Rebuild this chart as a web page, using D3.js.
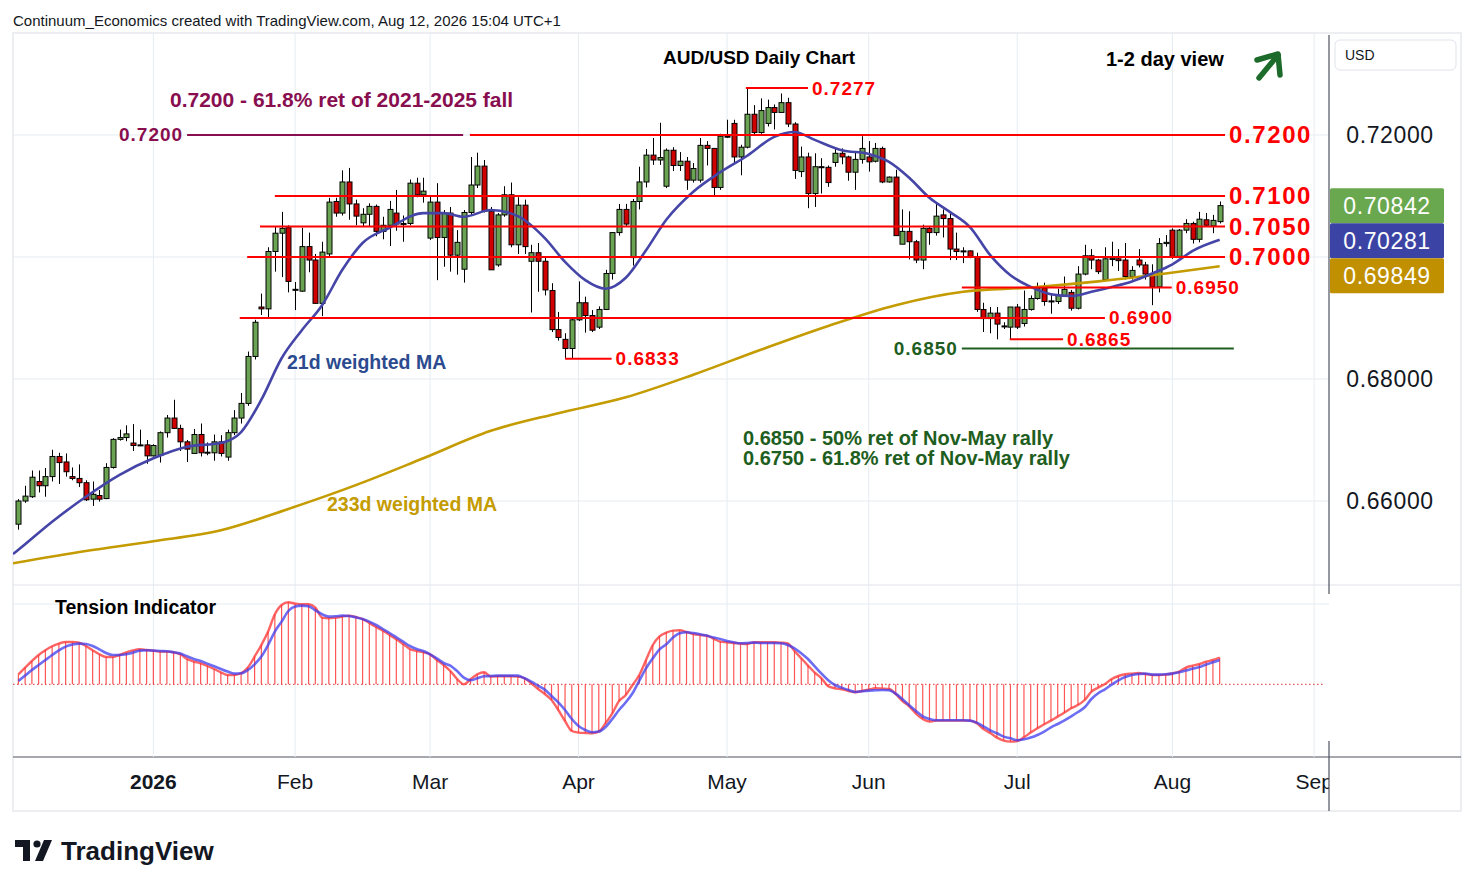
<!DOCTYPE html>
<html>
<head>
<meta charset="utf-8">
<title>AUD/USD Daily Chart</title>
<script src="https://cdn.jsdelivr.net/npm/d3@7"></script>
<style>
  body { margin: 0; background: #fff; }
  svg { display: block; font-family: "Liberation Sans", Arial, sans-serif; }
</style>
</head>
<body>
<script>
// ---- data ----

// daily candles, Dec 3 2025 .. Aug 12 2026
const opens = [
  .6562,.6600,.6607,.6632,.6625,.6640,.6673,.6664,.6640,.6637,.6630,.6603,.6609,.6604,.6655,.6701,.6704,.6695,.6692,.6692,
  .6674,.6675,.6712,.6736,.6719,.6697,.6678,.6709,.6679,.6679,.6697,.6672,.6712,.6736,.6760,.6837,.6918,.6915,.7009,.7039,
  .7048,.6946,.6944,.7017,.6995,.6924,.7005,.7091,.7072,.7123,.7087,.7056,.7070,.7083,.7042,.7052,.7072,.7054,.7055,.7121,
  .7102,.7031,.7090,.7032,.7072,.7003,.6980,.7073,.7118,.7149,.7075,.6987,.7069,.7102,.7020,.7085,.6993,.7007,.6993,.6945,
  .6881,.6865,.6850,.6897,.6925,.6904,.6885,.6914,.6973,.7040,.7078,.6999,.7091,.7123,.7167,.7159,.7116,.7175,.7150,.7157,
  .7126,.7126,.7183,.7178,.7114,.7197,.7219,.7164,.7180,.7234,.7204,.7219,.7245,.7237,.7253,.7218,.7140,.7164,.7104,.7148,
  .7147,.7155,.7170,.7164,.7139,.7160,.7164,.7157,.7178,.7123,.7131,.7021,.7042,.7025,.6995,.7047,.7040,.7069,.7063,.7013,
  .7010,.7010,.6999,.6914,.6899,.6908,.6887,.6885,.6918,.6891,.6914,.6932,.6949,.6928,.6927,.6937,.6942,.6916,.6972,.7002,
  .6995,.6963,.6996,.6997,.6995,.6968,.6995,.6987,.6972,.6951,.7022,.7044,.7001,.7044,.7055,.7029,.7061,.7051,.7058
];
const highs = [
  .6603,.6625,.6650,.6650,.6654,.6684,.6679,.6678,.6655,.6660,.6634,.6632,.6618,.6662,.6703,.6717,.6724,.6726,.6717,.6700,
  .6693,.6714,.6741,.6766,.6725,.6700,.6718,.6727,.6696,.6709,.6708,.6717,.6749,.6777,.6845,.6897,.6940,.7016,.7050,.7074,
  .7052,.6959,.7048,.7040,.7005,.7025,.7097,.7097,.7142,.7146,.7094,.7080,.7088,.7086,.7066,.7092,.7110,.7068,.7127,.7130,
  .7130,.7101,.7121,.7077,.7082,.7044,.7077,.7164,.7171,.7159,.7082,.7072,.7116,.7122,.7098,.7094,.7020,.7023,.7000,.6957,
  .6910,.6875,.6900,.6960,.6935,.6913,.6919,.6979,.7041,.7087,.7087,.7095,.7148,.7177,.7195,.7220,.7178,.7180,.7172,.7164,
  .7154,.7195,.7190,.7178,.7202,.7225,.7225,.7184,.7277,.7249,.7260,.7258,.7250,.7268,.7261,.7221,.7181,.7171,.7170,.7162,
  .7150,.7178,.7178,.7166,.7173,.7198,.7190,.7187,.7181,.7132,.7143,.7078,.7075,.7028,.7053,.7050,.7087,.7078,.7075,.7040,
  .7016,.7011,.7007,.6925,.6918,.6918,.6893,.6918,.6923,.6945,.6937,.6958,.6958,.6941,.6948,.6968,.6946,.6985,.7020,.7013,
  .6997,.7016,.7025,.7013,.7023,.6985,.7013,.6992,.6988,.7031,.7036,.7047,.7046,.7062,.7058,.7074,.7072,.7069,.7091
];
const lows = [
  .6553,.6597,.6605,.6614,.6607,.6632,.6628,.6640,.6634,.6623,.6600,.6592,.6599,.6603,.6653,.6699,.6698,.6682,.6690,.6661,
  .6673,.6663,.6704,.6718,.6682,.6664,.6678,.6673,.6675,.6666,.6673,.6666,.6708,.6727,.6756,.6832,.6905,.6900,.6976,.6967,
  .6942,.6913,.6943,.6975,.6924,.6903,.7000,.7066,.7068,.7061,.7052,.7050,.7050,.7034,.7029,.7018,.7043,.7025,.7052,.7098,
  .7089,.7028,.6962,.6984,.6976,.6971,.6958,.7068,.7113,.7073,.6979,.6984,.7066,.7016,.7005,.7005,.6909,.6943,.6937,.6877,
  .6863,.6833,.6833,.6895,.6876,.6877,.6882,.6913,.6963,.7035,.7050,.6986,.7078,.7114,.7151,.7151,.7113,.7141,.7141,.7110,
  .7122,.7122,.7150,.7100,.7110,.7195,.7153,.7134,.7178,.7201,.7202,.7214,.7209,.7237,.7213,.7128,.7131,.7080,.7082,.7104,
  .7115,.7148,.7152,.7125,.7110,.7153,.7140,.7155,.7121,.7122,.7035,.7021,.6996,.6990,.6980,.7020,.7035,.7032,.6995,.6995,
  .6990,.6998,.6910,.6877,.6875,.6865,.6882,.6865,.6882,.6886,.6912,.6930,.6920,.6907,.6923,.6935,.6912,.6914,.6970,.6980,
  .6972,.6961,.6985,.6977,.6963,.6963,.6983,.6963,.6921,.6942,.7017,.6997,.6998,.7039,.7022,.7024,.7050,.7039,.7055
];
const closes = [
  .6600,.6608,.6639,.6625,.6640,.6673,.6663,.6648,.6637,.6630,.6602,.6611,.6603,.6655,.6701,.6704,.6710,.6691,.6692,.6674,
  .6691,.6712,.6736,.6719,.6697,.6685,.6709,.6679,.6680,.6697,.6678,.6712,.6736,.6760,.6837,.6893,.6915,.7009,.7039,.7047,
  .6960,.6947,.7017,.6995,.6924,.7008,.7090,.7072,.7123,.7087,.7067,.7070,.7083,.7042,.7052,.7078,.7054,.7055,.7121,.7102,
  .7108,.7090,.7032,.7072,.7003,.7024,.7073,.7118,.7149,.7075,.6979,.7069,.7102,.7020,.7085,.7017,.7007,.6993,.6946,.6881,
  .6868,.6850,.6897,.6925,.6904,.6880,.6914,.6973,.7040,.7078,.7054,.7091,.7123,.7167,.7159,.7163,.7175,.7150,.7157,.7126,
  .7145,.7183,.7178,.7114,.7198,.7198,.7164,.7180,.7234,.7204,.7240,.7245,.7237,.7253,.7218,.7142,.7164,.7104,.7148,.7147,
  .7122,.7170,.7164,.7139,.7160,.7178,.7156,.7178,.7123,.7131,.7035,.7042,.7025,.6995,.7047,.7040,.7067,.7063,.7013,.7009,
  .7009,.7001,.6914,.6899,.6908,.6890,.6886,.6918,.6885,.6914,.6932,.6949,.6927,.6928,.6937,.6947,.6916,.6972,.7002,.6995,
  .6976,.6997,.6998,.6994,.6968,.6978,.6987,.6972,.6951,.7022,.7024,.7001,.7044,.7055,.7029,.7062,.7052,.7060,.70842
];

// weighted moving averages: [bar index, value]
const wma21 = [
  [-0.8,.6513],[0,.6520],[5,.6566],[10,.6607],[15,.6643],[20,.6670],[25,.6689],[30,.6695],[33,.6713],[36,.6766],
  [39,.6834],[42,.6880],[45,.6921],[48,.6979],[51,.7023],[55,.7048],[60,.7072],[63,.7072],[66,.7066],[70,.7077],
  [74,.7067],[78,.7031],[81,.6992],[84,.6962],[87,.6948],[90,.6966],[93,.7011],[96,.7061],[100,.7107],[104,.7139],
  [108,.7166],[112,.7197],[115,.7205],[118,.7192],[122,.7175],[126,.7169],[129,.7156],[132,.7130],[135,.7097],[138,.7074],
  [141,.7049],[144,.7003],[147,.6970],[150,.6951],[153,.6939],[156,.6936],[159,.6943],[162,.6951],[165,.6960],[168,.6973],
  [171,.6988],[174,.7010],[178,.70281]
];
const wma233 = [
  [-0.8,.6498],[10,.6518],[20,.6534],[30,.6552],[40,.6587],[50,.6626],[60,.6670],[70,.6715],[80,.6744],[90,.6770],
  [100,.6807],[110,.6848],[120,.6887],[130,.6921],[140,.6943],[150,.6950],[160,.6960],[170,.6973],[178,.69849]
];

// tension indicator (histogram) and its signal line, one value per bar
const tension = [
  10,16.7,23.3,29.3,34,38,40.7,42.3,42.3,41.7, 38.3,34,30,27.3,27.3,29.3,32,34,35,34.3,
  33.7,32.7,32.7,32,30,25.3,22.7,21,18.3,15.3, 12,9.3,9.3,11,16.7,27.7,39.3,52.7,70,79.3,
  82,80.7,80,80,76.7,66.7,66,66.7,67.7,68.7, 67.3,65.3,61.3,57.3,53.7,49.3,45,40.3,35.3,33.3,
  32,30,24.3,19.3,13.3,5.3,0,5,10,12, 7.7,8,8,8,7.7,6,1,-4.7,-9.7,-15.7,
  -25.7,-36.7,-46.7,-48.3,-48.7,-49,-47.3,-39,-29,-16.7, -10.7,-0.7,9.3,24.3,39.3,48,51.7,53.7,54,52.3,
  50.3,49.3,48.7,45.7,42.7,42,41.3,40.7,40.3,42, 42,42,42,41.7,41,33.3,26,18.7,11.7,6,
  -2,-4,-5,-6.7,-8,-6.7,-5.3,-4,-4.3,-4.7, -9.7,-16.7,-22,-29.3,-34.7,-37.3,-36.3,-36.3,-36.3,-36.3,
  -36.3,-36.3,-39,-44.7,-48.7,-53.3,-56.3,-57.3,-56.7,-53, -48.3,-44,-40,-36.3,-32.3,-28.3,-24,-20.7,-15.7,-7.3,
  -3.3,0.3,5.3,8.3,10,10.7,11.3,10.3,9.3,9.3, 9.7,11,12.7,16.7,18.7,20.3,22.7,24.3,26.7
];
const tensionSignal = [
  3.3,8.7,14.3,19.3,24.3,29.3,34,37.7,39.7,40.7, 40.3,38.3,35,31.3,29.3,29.3,30,31.7,33.7,34,
  33.7,33.3,33,32,30.7,28,25.3,23.3,20.7,18, 15.3,12.7,10.7,11,14.3,20,27.7,39.3,52.7,62.7,
  73.3,77.7,78.7,78,74,70,67.7,68,68.7,68.3, 67,65.3,62.7,59.3,55.3,51.3,47,42.7,38.3,35.3,
  33.3,30,26,21.3,18.7,13.3,6.7,4,6,8, 8.3,8.7,8.7,8.7,8.7,6,2.7,-1.3,-5.3,-11.7,
  -18,-25.7,-34.7,-41.7,-45.7,-48,-47.3,-42.7,-34.7,-25.7, -18,-9,3.7,16,26,35,40,46.7,51,52,
  51.3,50,48.7,46.7,45.3,43.3,42,41,41.3,41.7, 41.3,41.3,41.3,41,39.3,36,31,25.3,18,10.7,
  4,-0.7,-3.3,-5.7,-7.7,-7,-6.3,-6,-5.7,-6, -9.3,-15,-21,-26.7,-32,-34.7,-36,-36,-36,-36,
  -36,-36.3,-38.3,-42,-46,-49,-52.3,-54,-56,-55, -53.3,-50.7,-47.3,-43,-39.7,-36,-32,-27.7,-23,-14.7,
  -9,-5,-0.3,4,7.3,9.3,10.3,10.7,9.7,9.7, 10,10.7,12,13.7,15.7,17.3,19.7,22,24.3
];

// price axis
const priceTicks = [0.66, 0.68, 0.70, 0.72];

// analyst levels: value, bar range, label side
const redLevels = [
  { v: 0.7200, from: 66.9, to: 178.8, big: true },
  { v: 0.7100, from: 38.0, to: 178.8, big: true },
  { v: 0.7050, from: 35.8, to: 178.8, big: true },
  { v: 0.7000, from: 33.9, to: 178.8, big: true },
  { v: 0.6950, from: 139.8, to: 170.9 },
  { v: 0.6900, from: 32.8, to: 161.0 },
  { v: 0.6865, from: 146.9, to: 154.8 },
  { v: 0.6833, from: 81.0, to: 87.9 },
  { v: 0.7277, from: 107.8, to: 117.0 }
];
const retraceLevel = { v: 0.7200, from: 25.0, to: 65.9 };
const supportLevel = { v: 0.6850, from: 139.8, to: 180.1 };

// ---- chart ----
(function() {
  const W = 1474, H = 887;
  const left = 13, right = 1329, top = 33, priceBottom = 585;
  const tensTop = 588, tensBottom = 757, axisBottom = 811, outerRight = 1461;

  const red = '#ff0000', maroon = '#880e4f', dkGreen = '#1e5e20';
  const upFill = '#6aa351', downFill = '#d10000';

  const svg = d3.select('body').append('svg').attr('width', W).attr('height', H);

  const x = d3.scaleLinear().domain([-0.8, 194.2]).range([left, right]);
  const y = d3.scaleLinear().domain([0.64623, 0.73672]).range([priceBottom, top]);
  const yt = d3.scaleLinear().domain([-60, 85]).range([744.3, 599.3]);

  // trading days (weekdays, no Christmas / New Year)
  const fmt = d3.timeFormat('%Y-%m-%d');
  const holidays = ['2025-12-25', '2026-01-01'];
  const days = d3.timeDay.range(new Date(2025, 11, 3), new Date(2026, 9, 1))
    .filter(d => d.getDay() % 6 !== 0 && !holidays.includes(fmt(d)));
  const monthTicks = [];
  days.forEach((d, k) => {
    if (k > 0 && d.getMonth() !== days[k - 1].getMonth()) {
      monthTicks.push({ i: k, label: d.getMonth() === 0 ? d3.timeFormat('%Y')(d) : d3.timeFormat('%b')(d), year: d.getMonth() === 0 });
    }
  });

  const defs = svg.append('defs');
  defs.append('clipPath').attr('id', 'clipPrice').append('rect')
    .attr('x', left).attr('y', top).attr('width', right - left).attr('height', priceBottom - top);
  defs.append('clipPath').attr('id', 'clipTens').append('rect')
    .attr('x', left).attr('y', tensTop).attr('width', right - left).attr('height', tensBottom - tensTop);
  defs.append('clipPath').attr('id', 'clipAxis').append('rect')
    .attr('x', left).attr('y', tensBottom).attr('width', right - left).attr('height', axisBottom - tensBottom);

  // header
  svg.append('text').attr('x', 13).attr('y', 20).attr('dominant-baseline', 'central')
    .attr('font-size', 15).attr('fill', '#131722')
    .text('Continuum_Economics created with TradingView.com, Aug 12, 2026 15:04 UTC+1');

  // frame
  svg.append('rect').attr('x', left).attr('y', top).attr('width', outerRight - left).attr('height', axisBottom - top)
    .attr('fill', 'none').attr('stroke', '#eceef2').attr('stroke-width', 2);
  svg.append('line').attr('x1', left).attr('x2', outerRight).attr('y1', tensBottom).attr('y2', tensBottom)
    .attr('stroke', '#50535e').attr('stroke-width', 1.2);
  svg.append('line').attr('x1', left).attr('x2', outerRight).attr('y1', priceBottom).attr('y2', priceBottom)
    .attr('stroke', '#e0e3eb').attr('stroke-width', 1.2);

  // grid
  const grid = svg.append('g').attr('stroke', '#e6ecf2').attr('stroke-width', 1);
  grid.selectAll('.hg').data(priceTicks).enter().append('line')
    .attr('x1', left).attr('x2', right).attr('y1', d => y(d)).attr('y2', d => y(d));
  grid.append('line').attr('x1', left).attr('x2', right).attr('y1', 604).attr('y2', 604);
  grid.selectAll('.vg').data(monthTicks.filter(t => x(t.i) < right)).enter().append('line')
    .attr('x1', d => x(d.i)).attr('x2', d => x(d.i)).attr('y1', top).attr('y2', tensBottom);

  // candles
  const candleG = svg.append('g').attr('clip-path', 'url(#clipPrice)');
  const bars = d3.range(closes.length);
  candleG.selectAll('.wick').data(bars).enter().append('line')
    .attr('x1', i => Math.round(x(i)) + 0.5).attr('x2', i => Math.round(x(i)) + 0.5)
    .attr('y1', i => y(highs[i])).attr('y2', i => y(lows[i]))
    .attr('stroke', '#000').attr('stroke-width', 1);
  candleG.selectAll('.body').data(bars).enter().append('rect')
    .attr('x', i => Math.round(x(i)) - 2)
    .attr('y', i => y(Math.max(opens[i], closes[i])))
    .attr('width', 5)
    .attr('height', i => Math.max(1, Math.abs(y(opens[i]) - y(closes[i]))))
    .attr('fill', i => closes[i] >= opens[i] ? upFill : downFill)
    .attr('stroke', '#000').attr('stroke-width', 1);

  // moving averages
  const maLine = d3.line().x(d => x(d[0])).y(d => y(d[1])).curve(d3.curveMonotoneX);
  const maG = svg.append('g').attr('clip-path', 'url(#clipPrice)').attr('fill', 'none').attr('stroke-width', 2.6);
  maG.append('path').datum(wma233).attr('d', maLine).attr('stroke', '#c49b00');
  maG.append('path').datum(wma21).attr('d', maLine).attr('stroke', '#4545a8');

  // level lines
  const lv = svg.append('g').attr('stroke-width', 2);
  redLevels.forEach(l => {
    lv.append('line').attr('x1', x(l.from)).attr('x2', x(l.to)).attr('y1', y(l.v)).attr('y2', y(l.v)).attr('stroke', red);
    svg.append('text').attr('x', x(l.to) + 4).attr('y', y(l.v)).attr('dominant-baseline', 'central')
      .attr('font-weight', 'bold').attr('font-size', l.big ? 24 : 19).attr('letter-spacing', l.big ? 1.6 : 1)
      .attr('fill', red).text(l.v.toFixed(4));
  });
  lv.append('line').attr('x1', x(retraceLevel.from)).attr('x2', x(retraceLevel.to))
    .attr('y1', y(retraceLevel.v)).attr('y2', y(retraceLevel.v)).attr('stroke', maroon);
  svg.append('text').attr('x', x(retraceLevel.from) - 4).attr('y', y(retraceLevel.v)).attr('dominant-baseline', 'central')
    .attr('text-anchor', 'end').attr('font-weight', 'bold').attr('font-size', 19).attr('letter-spacing', 1)
    .attr('fill', maroon).text(retraceLevel.v.toFixed(4));
  lv.append('line').attr('x1', x(supportLevel.from)).attr('x2', x(supportLevel.to))
    .attr('y1', y(supportLevel.v)).attr('y2', y(supportLevel.v)).attr('stroke', dkGreen);
  svg.append('text').attr('x', x(supportLevel.from) - 4).attr('y', y(supportLevel.v)).attr('dominant-baseline', 'central')
    .attr('text-anchor', 'end').attr('font-weight', 'bold').attr('font-size', 19).attr('letter-spacing', 1)
    .attr('fill', dkGreen).text(supportLevel.v.toFixed(4));

  // annotations
  const note = (tx, ty, txt, color, size) => svg.append('text')
    .attr('x', tx).attr('y', ty).attr('dominant-baseline', 'central')
    .attr('font-weight', 'bold').attr('font-size', size || 19).attr('fill', color).text(txt);
  note(663, 57, 'AUD/USD Daily Chart', '#000');
  note(1106, 59, '1-2 day view', '#000', 20);
  note(170, 99, '0.7200 - 61.8% ret of 2021-2025 fall', maroon, 21);
  note(287, 362, '21d weighted MA', '#2b4a8f', 19.5);
  note(327, 504, '233d weighted MA', '#c49b00', 19.5);
  note(743, 438, '0.6850 - 50% ret of Nov-May rally', dkGreen, 20);
  note(743, 458, '0.6750 - 61.8% ret of Nov-May rally', dkGreen, 20);
  note(55, 607, 'Tension Indicator', '#000', 19.5);

  // view arrow
  const arrow = svg.append('g').attr('stroke', '#1d6b2a').attr('stroke-width', 5.5)
    .attr('stroke-linecap', 'round').attr('stroke-linejoin', 'round').attr('fill', 'none');
  arrow.append('line').attr('x1', 1259).attr('y1', 78).attr('x2', 1278).attr('y2', 55);
  arrow.append('polyline').attr('points', '1257,60 1278,54 1280,75');

  // tension panel
  const tg = svg.append('g').attr('clip-path', 'url(#clipTens)');
  tg.append('line').attr('x1', left).attr('x2', 1325).attr('y1', yt(0)).attr('y2', yt(0))
    .attr('stroke', '#e03030').attr('stroke-width', 1).attr('stroke-dasharray', '1.5,2.5');
  tg.selectAll('.th').data(bars).enter().append('line')
    .attr('x1', i => x(i)).attr('x2', i => x(i)).attr('y1', yt(0)).attr('y2', i => yt(tension[i]))
    .attr('stroke', '#ff2a2a').attr('stroke-opacity', 0.8).attr('stroke-width', 1.2);
  const tl = d3.line().x((d, i) => x(i)).y(d => yt(d)).curve(d3.curveMonotoneX);
  tg.append('path').datum(tension).attr('d', tl).attr('fill', 'none')
    .attr('stroke', '#ff3030').attr('stroke-opacity', 0.75).attr('stroke-width', 2.4);
  tg.append('path').datum(tensionSignal).attr('d', tl).attr('fill', 'none')
    .attr('stroke', '#3c3cf0').attr('stroke-opacity', 0.75).attr('stroke-width', 2.6);

  // time axis
  const ta = svg.append('g').attr('clip-path', 'url(#clipAxis)');
  ta.selectAll('text').data(monthTicks).enter().append('text')
    .attr('x', d => x(d.i)).attr('y', 781).attr('dominant-baseline', 'central').attr('text-anchor', 'middle')
    .attr('font-size', 21).attr('font-weight', d => d.year ? 'bold' : 'normal').attr('fill', '#131722')
    .text(d => d.label);

  // price axis
  svg.append('line').attr('x1', right).attr('x2', right).attr('y1', 35).attr('y2', 594).attr('stroke', '#50535e').attr('stroke-width', 1.2);
  svg.append('line').attr('x1', right).attr('x2', right).attr('y1', 741).attr('y2', axisBottom).attr('stroke', '#50535e').attr('stroke-width', 1.2);
  svg.append('rect').attr('x', 1335).attr('y', 40).attr('width', 121).attr('height', 30).attr('rx', 5)
    .attr('fill', '#fff').attr('stroke', '#e0e3eb');
  svg.append('text').attr('x', 1345).attr('y', 55).attr('dominant-baseline', 'central')
    .attr('font-size', 14).attr('fill', '#131722').text('USD');

  // last value tags, stacked so they do not overlap
  const tags = [
    { v: closes[closes.length - 1], fill: '#6aa84f' },
    { v: wma21[wma21.length - 1][1], fill: '#3b44a4' },
    { v: wma233[wma233.length - 1][1], fill: '#c09000' }
  ].sort((a, b) => b.v - a.v);
  const tagH = 35;
  let prevTop = -Infinity;
  tags.forEach(t => {
    let t0 = y(t.v) - tagH / 2;
    if (t0 < prevTop + tagH) t0 = prevTop + tagH;
    prevTop = t0;
    t.top = t0;
  });

  // tick labels that the tags would hide are left out
  const visibleTicks = priceTicks.filter(p => tags.every(t => y(p) + 10 < t.top || y(p) - 10 > t.top + tagH));
  svg.selectAll('.ptick').data(visibleTicks).enter().append('text')
    .attr('x', 1390).attr('y', d => y(d)).attr('dominant-baseline', 'central').attr('text-anchor', 'middle')
    .attr('font-size', 23).attr('letter-spacing', 0.6).attr('fill', '#131722').text(d => d.toFixed(5));

  tags.forEach(t => {
    svg.append('rect').attr('x', 1330).attr('y', t.top).attr('width', 114).attr('height', tagH)
      .attr('fill', t.fill).attr('rx', 1.5);
    svg.append('text').attr('x', 1387).attr('y', t.top + tagH / 2).attr('dominant-baseline', 'central')
      .attr('text-anchor', 'middle').attr('font-size', 23).attr('letter-spacing', 0.6).attr('fill', '#fff')
      .text(t.v.toFixed(5));
  });

  // TradingView logo
  const logo = svg.append('g').attr('fill', '#131722');
  logo.append('path').attr('d', 'M15 840 h15 v21 h-7 v-14 h-8 z');
  logo.append('circle').attr('cx', 37).attr('cy', 844).attr('r', 3.6);
  logo.append('path').attr('d', 'M44 840 h8 l-9 21 h-8 z');
  svg.append('text').attr('x', 61).attr('y', 851).attr('dominant-baseline', 'central')
    .attr('font-size', 26).attr('font-weight', 'bold').attr('fill', '#131722').text('TradingView');
})();
</script>
</body>
</html>
